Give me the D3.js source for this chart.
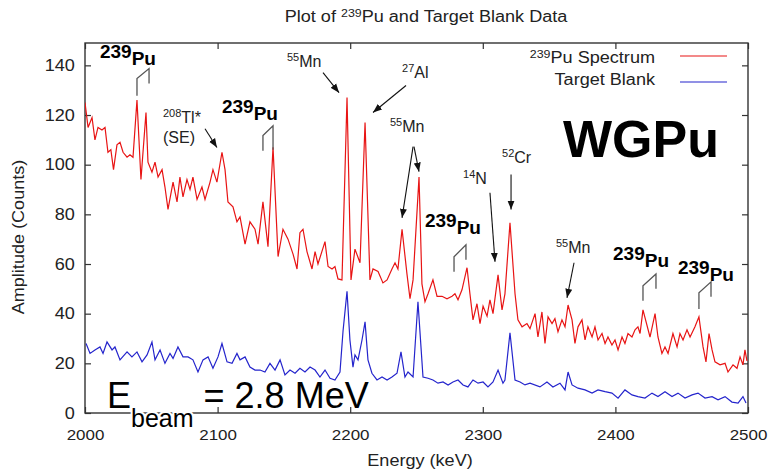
<!DOCTYPE html>
<html>
<head>
<meta charset="utf-8">
<script src="https://cdn.jsdelivr.net/npm/d3@7"></script>
<style>
  body { margin: 0; background: #fff; }
  text { font-family: "Liberation Sans", Arial, sans-serif; }
</style>
</head>
<body>
<div id="app"></div>
<script>
// 239Pu spectrum (red), energy in keV / counts
let puEnergy = [2000.0, 2002.3, 2005.3, 2007.5, 2009.8, 2012.8, 2015.1, 2017.3, 2019.5, 2021.5,
  2024.1, 2026.4, 2028.7, 2031.7, 2033.9, 2036.2, 2039.2, 2042.2, 2046.0, 2047.5,
  2050.5, 2052.8, 2055.1, 2058.1, 2060.3, 2062.6, 2066.4, 2069.4, 2071.6, 2073.9,
  2076.9, 2079.2, 2081.4, 2084.5, 2088.2, 2090.5, 2094.3, 2096.5, 2099.5, 2103.3,
  2105.6, 2107.8, 2111.6, 2114.6, 2116.9, 2120.7, 2124.4, 2128.2, 2130.5, 2134.2,
  2138.0, 2141.8, 2145.6, 2149.3, 2153.1, 2156.9, 2159.9, 2162.1, 2164.4, 2167.4,
  2171.2, 2173.5, 2175.7, 2181.0, 2183.3, 2186.3, 2188.5, 2190.8, 2193.8, 2197.6,
  2200.6, 2203.6, 2207.4, 2211.2, 2214.9, 2217.2, 2221.0, 2224.7, 2227.8, 2231.5,
  2233.8, 2236.0, 2239.1, 2242.8, 2245.1, 2247.4, 2251.9, 2254.1, 2256.4, 2258.7,
  2262.4, 2265.5, 2269.2, 2273.0, 2276.8, 2279.0, 2281.3, 2284.3, 2288.1, 2290.3,
  2292.6, 2295.6, 2297.9, 2300.2, 2303.2, 2305.4, 2307.7, 2311.5, 2314.5, 2316.7,
  2320.5, 2324.3, 2326.5, 2329.6, 2333.3, 2335.6, 2339.4, 2341.6, 2344.6, 2346.9,
  2349.2, 2352.2, 2354.4, 2356.7, 2359.7, 2362.0, 2364.3, 2367.3, 2369.5, 2371.8,
  2374.8, 2377.1, 2379.3, 2382.4, 2384.6, 2386.9, 2389.9, 2392.2, 2394.4, 2397.4,
  2399.7, 2402.0, 2405.0, 2407.2, 2409.5, 2412.5, 2414.8, 2417.0, 2418.6, 2420.8,
  2426.1, 2429.9, 2432.1, 2435.1, 2437.4, 2439.7, 2443.4, 2446.5, 2448.7, 2451.0,
  2454.0, 2456.3, 2460.0, 2463.0, 2466.1, 2468.3, 2470.6, 2472.9, 2475.1, 2478.9,
  2482.7, 2484.9, 2488.7, 2491.7, 2494.0, 2496.2, 2497.7, 2499.2];
let puCounts = [125, 115, 119, 110, 115, 114, 115, 105, 106, 98,
  108, 109, 105, 103, 104, 103, 126, 94, 121, 101,
  97, 101, 95, 98, 91, 82, 93, 85, 95, 87,
  94, 90, 95, 86, 91, 86, 93, 98, 93, 105,
  98, 85, 83, 77, 79, 68, 77, 74, 68, 85,
  67, 107, 63, 74, 70, 64, 58, 72.6, 74, 65,
  58, 65, 60, 69, 59, 58, 59, 54, 53.6, 127,
  53.6, 66, 60.5, 117, 53.6, 58, 57, 52.4, 53.6, 58,
  60.5, 58, 74, 56, 46, 53.6, 95, 52, 44.8, 48,
  53.6, 47, 47, 46, 47, 48, 45.6, 49.6, 58.5, 48,
  37.5, 44, 36, 43, 39, 45.6, 40, 55.6, 41.5, 48,
  76.6, 48, 37.5, 34.7, 36, 34, 40, 30.6, 40.7, 28,
  38.7, 36, 38, 32.7, 37.5, 34.7, 43.5, 37.5, 28, 34.7,
  37.5, 29.4, 34.7, 30.6, 34.7, 29.4, 32, 28, 30.6, 27.4,
  29.4, 25.4, 30.6, 28, 32, 30.6, 33.5, 34.7, 32, 41.5,
  30.6, 40, 30.6, 24, 26.6, 24, 32, 26.6, 32, 29.4,
  33.5, 30.6, 34.7, 38.7, 26.6, 20.6, 32, 25.4, 20.6, 19.4,
  20, 16.5, 19.4, 18, 22.6, 19.4, 25.4, 21];

// target blank (blue)
let blankEnergy = [2000.8, 2003.8, 2007.5, 2011.3, 2013.6, 2016.6, 2020.4, 2022.6, 2026.4, 2031.7,
  2035.4, 2039.2, 2043.0, 2046.8, 2050.5, 2052.8, 2056.6, 2060.3, 2064.1, 2066.4,
  2070.1, 2073.9, 2077.7, 2081.4, 2085.2, 2089.0, 2092.8, 2096.5, 2100.3, 2103.3,
  2107.1, 2110.9, 2114.6, 2116.9, 2120.7, 2124.4, 2128.2, 2132.0, 2135.7, 2139.5,
  2143.3, 2147.1, 2150.8, 2154.6, 2158.4, 2162.1, 2165.9, 2169.7, 2173.5, 2177.2,
  2181.0, 2184.8, 2188.5, 2192.3, 2194.6, 2197.6, 2199.8, 2202.1, 2203.6, 2205.9,
  2208.9, 2211.2, 2213.4, 2216.4, 2220.2, 2224.0, 2227.8, 2231.5, 2235.3, 2238.3,
  2241.3, 2243.6, 2247.4, 2251.1, 2254.9, 2258.7, 2262.4, 2266.2, 2270.0, 2273.8,
  2277.5, 2281.3, 2285.1, 2288.8, 2292.6, 2296.4, 2300.2, 2303.9, 2307.7, 2311.5,
  2315.2, 2316.7, 2320.5, 2324.3, 2328.1, 2331.8, 2335.6, 2343.1, 2348.4, 2352.9,
  2358.2, 2362.0, 2364.3, 2367.3, 2371.8, 2377.1, 2382.4, 2386.9, 2392.2, 2397.4,
  2402.0, 2407.2, 2412.5, 2417.0, 2422.3, 2427.6, 2432.1, 2437.4, 2442.7, 2447.2,
  2452.5, 2457.8, 2462.3, 2467.6, 2472.9, 2477.4, 2482.7, 2487.9, 2492.5, 2496.2,
  2498.5];
let blankCounts = [28, 24, 25.4, 26.6, 24, 28.6, 25.4, 26.6, 21.4, 24.6,
  22.6, 24.6, 20.6, 23.4, 28.6, 21.4, 25.4, 20, 24, 22,
  26.6, 22.6, 22.6, 21.4, 16.5, 21.4, 22.6, 18, 22.6, 28,
  20.6, 20, 24, 21.4, 22.6, 18.5, 17.3, 17.3, 16.5, 20,
  17.3, 21.4, 15.3, 17.3, 16, 18, 16.5, 18.5, 17.3, 14.5,
  17.3, 14, 13.3, 16.5, 33, 49, 29.4, 18.5, 23.4, 21.4,
  29.4, 36.7, 21.4, 16, 13.3, 14.5, 13.3, 14.5, 16, 24.6,
  14.5, 16.5, 14.5, 44.8, 14.5, 14, 13.3, 12, 12.5, 11.3,
  12.5, 13.3, 11.3, 10.5, 13.3, 12, 12.5, 10.5, 12.5, 17.3,
  12, 13.3, 32.3, 13.3, 12.5, 11.3, 12, 10.5, 12.5, 10.5,
  12, 9.3, 16.5, 11.3, 10, 9.3, 8, 9.3, 8.6, 8,
  6, 9.3, 7.3, 6.6, 6, 8, 6.6, 8.6, 6.6, 8,
  6, 7.3, 8, 6, 6.6, 5.3, 6.6, 4.4, 4, 6.6,
  4];

let xTicks = [2000, 2100, 2200, 2300, 2400, 2500];
let yTicks = [0, 20, 40, 60, 80, 100, 120, 140];

// isotope labels, anchored in keV / counts
let isoLabels = [
  {mass: '239', sym: 'Pu', e: 2011.3, c: 143.1, bold: true},
  {mass: '239', sym: 'Pu', e: 2103.3, c: 121.0, bold: true},
  {mass: '239', sym: 'Pu', e: 2256.4, c: 75.0, bold: true},
  {mass: '239', sym: 'Pu', e: 2398.2, c: 61.7, bold: true},
  {mass: '239', sym: 'Pu', e: 2447.2, c: 56.0, bold: true},
  {mass: '208', sym: 'Tl*', e: 2058.8, c: 116.9},
  {mass: '55', sym: 'Mn', e: 2152.3, c: 139.5},
  {mass: '27', sym: 'Al', e: 2239.1, c: 135.1},
  {mass: '55', sym: 'Mn', e: 2230.0, c: 113.3},
  {mass: '14', sym: 'N', e: 2285.1, c: 92.3},
  {mass: '52', sym: 'Cr', e: 2314.5, c: 100.8},
  {mass: '55', sym: 'Mn', e: 2355.2, c: 64.5}
];
let arrows = [
  [2090.5, 114.5, 2099.5, 106.9],
  [2179.5, 137.1, 2191.6, 129.0],
  [2242.1, 131.9, 2217.2, 121.0],
  [2247.4, 107.3, 2239.1, 78.6],
  [2248.1, 107.3, 2251.9, 97.2],
  [2305.4, 88.7, 2309.2, 60.9],
  [2321.3, 96.0, 2321.3, 81.9],
  [2368.8, 60.5, 2363.5, 46.4]
];
// doublet brackets: left E, right E, left low, left top, right top, right low
let brackets = [
  [2039.2, 2048.3, 127.8, 134.7, 138.7, 132.7],
  [2134.2, 2141.8, 105.6, 111.7, 115.7, 106.0],
  [2278.3, 2287.3, 56.9, 62.9, 67.7, 61.7],
  [2420.8, 2430.6, 45.2, 51.2, 56.0, 50.0],
  [2463.0, 2472.1, 41.9, 48.4, 52.8, 46.8]
];

let width = 769, height = 469;
let sx = 1.13; // the plot text is a bit wide

let xScale = d3.scaleLinear().domain([2000, 2500]).range([85, 748]);
let yScale = d3.scaleLinear().domain([0, 149]).range([413, 43]);

let svg = d3.select('#app').append('svg')
  .attr('width', width)
  .attr('height', height)
  .style('background', '#fff');

svg.append('defs').append('marker')
  .attr('id', 'arrow')
  .attr('viewBox', '0 -4 9 8')
  .attr('refX', 9).attr('refY', 0)
  .attr('markerWidth', 9).attr('markerHeight', 8)
  .attr('markerUnits', 'userSpaceOnUse')
  .attr('orient', 'auto')
  .append('path').attr('d', 'M0,-3.5L9,0L0,3.5Z').attr('fill', '#111');

svg.select('defs').append('clipPath').attr('id', 'plotclip')
  .append('rect').attr('x', 85).attr('y', 43).attr('width', 663).attr('height', 370);

// title
let title = svg.append('text')
  .attr('transform', 'translate(426,22) scale(' + sx + ',1)')
  .attr('text-anchor', 'middle')
  .style('font-size', '16px')
  .attr('fill', '#222');
title.append('tspan').text('Plot of ');
title.append('tspan').attr('dy', -5).style('font-size', '11px').text('239');
title.append('tspan').attr('dy', 5).text('Pu and Target Blank Data');

// axes with inward ticks
let styleAxis = function(g) {
  g.select('.domain').remove();
  g.selectAll('line').attr('stroke', '#333').attr('stroke-width', 1.2);
  g.selectAll('text').attr('fill', '#222').style('font-size', '15px')
    .style('font-family', '"Liberation Sans", Arial, sans-serif');
};

svg.append('g').attr('transform', 'translate(0,413)')
  .call(d3.axisBottom(xScale).tickValues(xTicks).tickFormat(d3.format('d'))
    .tickSizeInner(-6).tickSizeOuter(0).tickPadding(16))
  .call(styleAxis)
  .selectAll('text').attr('transform', 'scale(' + sx + ',1)');
svg.append('g').attr('transform', 'translate(0,43)')
  .call(d3.axisTop(xScale).tickValues(xTicks).tickSizeInner(-6).tickSizeOuter(0).tickFormat(''))
  .call(styleAxis);
svg.append('g').attr('transform', 'translate(85,0)')
  .call(d3.axisLeft(yScale).tickValues(yTicks).tickFormat(d3.format('d'))
    .tickSizeInner(-6).tickSizeOuter(0).tickPadding(9))
  .call(styleAxis)
  .selectAll('text').style('font-size', '16px').attr('transform', 'scale(' + sx + ',1)');
svg.append('g').attr('transform', 'translate(748,0)')
  .call(d3.axisRight(yScale).tickValues(yTicks).tickSizeInner(-6).tickSizeOuter(0).tickFormat(''))
  .call(styleAxis);

svg.append('rect')
  .attr('x', 85).attr('y', 43).attr('width', 663).attr('height', 370)
  .attr('fill', 'none').attr('stroke', '#333').attr('stroke-width', 1.4);

svg.append('text')
  .attr('transform', 'translate(420,466) scale(' + sx + ',1)')
  .attr('text-anchor', 'middle')
  .style('font-size', '16px').attr('fill', '#222')
  .text('Energy (keV)');
svg.append('text')
  .attr('transform', 'translate(24,237) rotate(-90) scale(' + sx + ',1)')
  .attr('text-anchor', 'middle')
  .style('font-size', '16px').attr('fill', '#222')
  .text('Amplitude (Counts)');

// spectra
let line = d3.line()
  .x(function(d) { return xScale(d[0]); })
  .y(function(d) { return yScale(d[1]); });

let plot = svg.append('g').attr('clip-path', 'url(#plotclip)');
plot.append('path')
  .datum(blankEnergy.map(function(e, i) { return [e, blankCounts[i]]; }))
  .attr('d', line)
  .attr('fill', 'none').attr('stroke', '#2424cc').attr('stroke-width', 1.2);
plot.append('path')
  .datum(puEnergy.map(function(e, i) { return [e, puCounts[i]]; }))
  .attr('d', line)
  .attr('fill', 'none').attr('stroke', '#e81414').attr('stroke-width', 1.2);

// legend
let legend = svg.append('g');
let leg1 = legend.append('text')
  .attr('transform', 'translate(655,63) scale(' + sx + ',1)')
  .attr('text-anchor', 'end').style('font-size', '16px').attr('fill', '#222');
leg1.append('tspan').attr('dy', -5).style('font-size', '11px').text('239');
leg1.append('tspan').attr('dy', 5).text('Pu Spectrum');
legend.append('text')
  .attr('transform', 'translate(655,85) scale(' + sx + ',1)')
  .attr('text-anchor', 'end').style('font-size', '16px').attr('fill', '#222')
  .text('Target Blank');
legend.append('line').attr('x1', 680).attr('x2', 727).attr('y1', 56).attr('y2', 56)
  .attr('stroke', '#e81414').attr('stroke-width', 1.2);
legend.append('line').attr('x1', 680).attr('x2', 727).attr('y1', 82).attr('y2', 82)
  .attr('stroke', '#2424cc').attr('stroke-width', 1.2);

// brackets over the Pu doublets
svg.selectAll('.bracket')
  .data(brackets)
  .enter()
  .append('path')
  .attr('class', 'bracket')
  .attr('d', function(b) {
    return d3.line()([
      [xScale(b[0]), yScale(b[2])], [xScale(b[0]), yScale(b[3])],
      [xScale(b[1]), yScale(b[4])], [xScale(b[1]), yScale(b[5])]
    ]);
  })
  .attr('fill', 'none').attr('stroke', '#555').attr('stroke-width', 1.3);

// arrows
svg.selectAll('.arrow')
  .data(arrows)
  .enter()
  .append('line')
  .attr('class', 'arrow')
  .attr('x1', function(a) { return xScale(a[0]); })
  .attr('y1', function(a) { return yScale(a[1]); })
  .attr('x2', function(a) { return xScale(a[2]); })
  .attr('y2', function(a) { return yScale(a[3]); })
  .attr('stroke', '#111').attr('stroke-width', 1.1)
  .attr('marker-end', 'url(#arrow)');

// isotope labels
isoLabels.forEach(function(d) {
  let t = svg.append('text')
    .attr('x', xScale(d.e)).attr('y', yScale(d.c))
    .attr('fill', d.bold ? '#000' : '#222');
  if (d.bold) {
    t.style('font-weight', 'bold').style('font-size', '19px');
    t.append('tspan').text(d.mass);
    t.append('tspan').attr('dy', 7).text(d.sym);
  } else {
    t.style('font-size', '16px');
    t.append('tspan').attr('dy', -6).style('font-size', '11px').text(d.mass);
    t.append('tspan').attr('dy', 6).text(d.sym);
  }
});
svg.append('text')
  .attr('x', xScale(2058.8)).attr('y', yScale(108.9))
  .style('font-size', '16px').attr('fill', '#222')
  .text('(SE)');

// big overlay texts
svg.append('text')
  .attr('x', 563).attr('y', 157)
  .style('font-size', '52px').style('font-weight', 'bold').attr('fill', '#000')
  .text('WGPu');

let ebeam = svg.append('text')
  .attr('x', 107).attr('y', 408)
  .style('font-size', '36px').attr('fill', '#000');
ebeam.append('tspan').text('E');
ebeam.append('tspan').attr('dy', 19).style('font-size', '25px')
  .attr('stroke', '#fff').attr('stroke-width', 4).attr('paint-order', 'stroke')
  .text('beam');
ebeam.append('tspan').attr('dy', -19).text(' = 2.8 MeV');
</script>
</body>
</html>
